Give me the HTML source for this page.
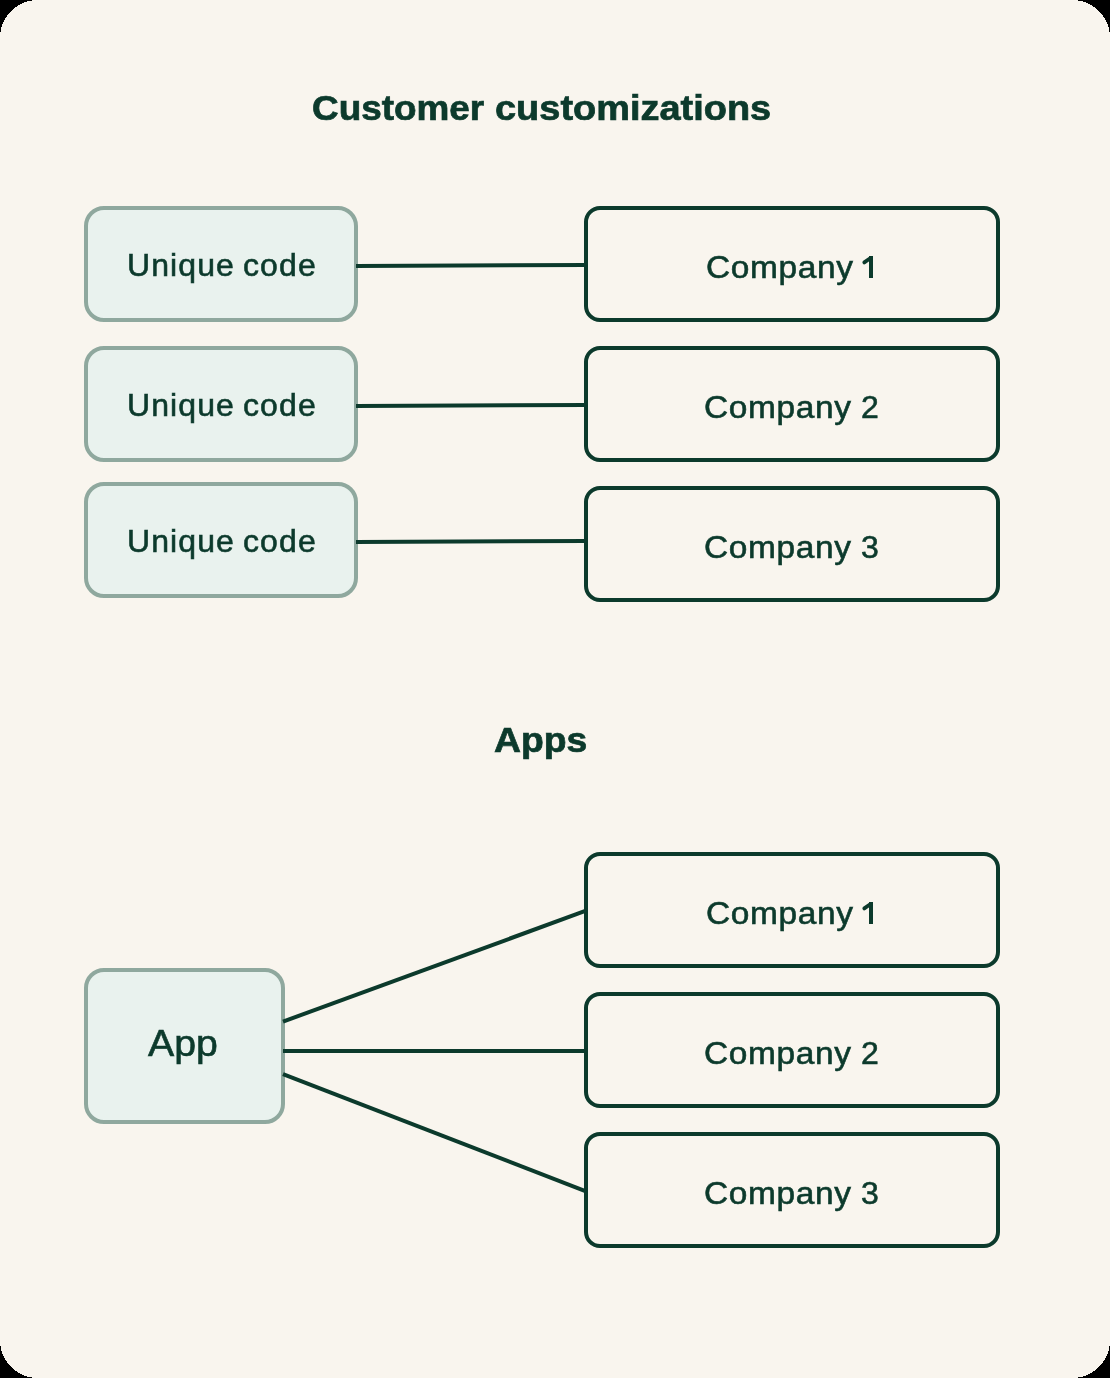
<!DOCTYPE html>
<html>
<head>
<meta charset="utf-8">
<style>
html,body{margin:0;padding:0;width:1110px;height:1378px;overflow:hidden;background:#F9F5EE;}
#card{position:absolute;left:0;top:0;width:1110px;height:1378px;background:#F9F5EE;overflow:hidden;}
svg{position:absolute;left:0;top:0;}
.t{position:absolute;will-change:transform;font-family:"Liberation Sans",sans-serif;color:#0C3A2C;white-space:nowrap;line-height:1;}
.h{font-weight:700;font-size:34.5px;-webkit-text-stroke:0.7px #0C3A2C;transform-origin:0 0;}
.co{transform:scaleX(1.045);transform-origin:0 0;}
.lbl{font-weight:400;font-size:32px;letter-spacing:0.6px;-webkit-text-stroke:0.6px #0C3A2C;}
</style>
</head>
<body>
<div id="card">
<svg width="1110" height="1378" viewBox="0 0 1110 1378">
  <g fill="#E9F2EE" stroke="#8FA89E" stroke-width="4">
    <rect x="86" y="208" width="270" height="112" rx="18" ry="18"/>
    <rect x="86" y="348" width="270" height="112" rx="18" ry="18"/>
    <rect x="86" y="484" width="270" height="112" rx="18" ry="18"/>
    <rect x="86" y="970" width="197" height="152" rx="18" ry="18"/>
  </g>
  <g fill="none" stroke="#0C3A2C" stroke-width="4">
    <rect x="586" y="208" width="412" height="112" rx="14" ry="14"/>
    <rect x="586" y="348" width="412" height="112" rx="14" ry="14"/>
    <rect x="586" y="488" width="412" height="112" rx="14" ry="14"/>
    <rect x="586" y="854" width="412" height="112" rx="14" ry="14"/>
    <rect x="586" y="994" width="412" height="112" rx="14" ry="14"/>
    <rect x="586" y="1134" width="412" height="112" rx="14" ry="14"/>
    <line x1="356" y1="266" x2="586" y2="265"/>
    <line x1="356" y1="406" x2="586" y2="405"/>
    <line x1="356" y1="542" x2="586" y2="541"/>
    <line x1="283" y1="1021.6" x2="586" y2="910.7"/>
    <line x1="283" y1="1051" x2="586" y2="1051"/>
    <line x1="283" y1="1074.1" x2="586" y2="1191.3"/>
  </g>
  <g fill="#000" shape-rendering="crispEdges">
    <path d="M0,0 H36 C17.6,0 0,17.6 0,36 Z"/>
    <path d="M1110,0 H1074 C1092.4,0 1110,17.6 1110,36 Z"/>
    <path d="M0,1378 H36 C17.6,1378 0,1360.4 0,1342 Z"/>
    <path d="M1110,1378 H1074 C1092.4,1378 1110,1360.4 1110,1342 Z"/>
  </g>
  <g fill="#0C3A2C">
    <rect x="869" y="256" width="4" height="22"/>
    <rect x="869" y="902" width="4" height="22"/>
  </g>
  <g stroke="#0C3A2C" stroke-width="3.8" stroke-linecap="round" fill="none">
    <path d="M864.3,262.4 L870.6,258"/>
    <path d="M864.3,908.4 L870.6,904"/>
  </g>
</svg>
<div class="t h" style="left:311.5px;top:91px;transform:scaleX(1.069)">Customer</div>
<div class="t h" style="left:495px;top:91px;transform:scaleX(1.1)">customizations</div>
<div class="t h" style="left:494px;top:723px;transform:scaleX(1.082)">Apps</div>

<div class="t lbl" style="left:127px;top:249px;letter-spacing:1.1px;word-spacing:-2px">Unique code</div>
<div class="t lbl" style="left:127px;top:389px;letter-spacing:1.1px;word-spacing:-2px">Unique code</div>
<div class="t lbl" style="left:127px;top:525px;letter-spacing:1.1px;word-spacing:-2px">Unique code</div>


<div class="t lbl co" style="left:706px;top:251px;">Company</div>
<div class="t lbl co" style="left:704px;top:391px;">Company</div>
<div class="t lbl" style="left:861px;top:391px;">2</div>
<div class="t lbl co" style="left:704px;top:531px;">Company</div>
<div class="t lbl" style="left:861px;top:531px;">3</div>
<div class="t lbl co" style="left:706px;top:897px;">Company</div>
<div class="t lbl co" style="left:704px;top:1037px;">Company</div>
<div class="t lbl" style="left:861px;top:1037px;">2</div>
<div class="t lbl co" style="left:704px;top:1177px;">Company</div>
<div class="t lbl" style="left:861px;top:1177px;">3</div>
<div class="t" style="left:148px;top:1026px;font-size:36px;transform:scaleX(1.09);transform-origin:0 0;-webkit-text-stroke:0.6px #0C3A2C">App</div>
</div>
</body>
</html>
